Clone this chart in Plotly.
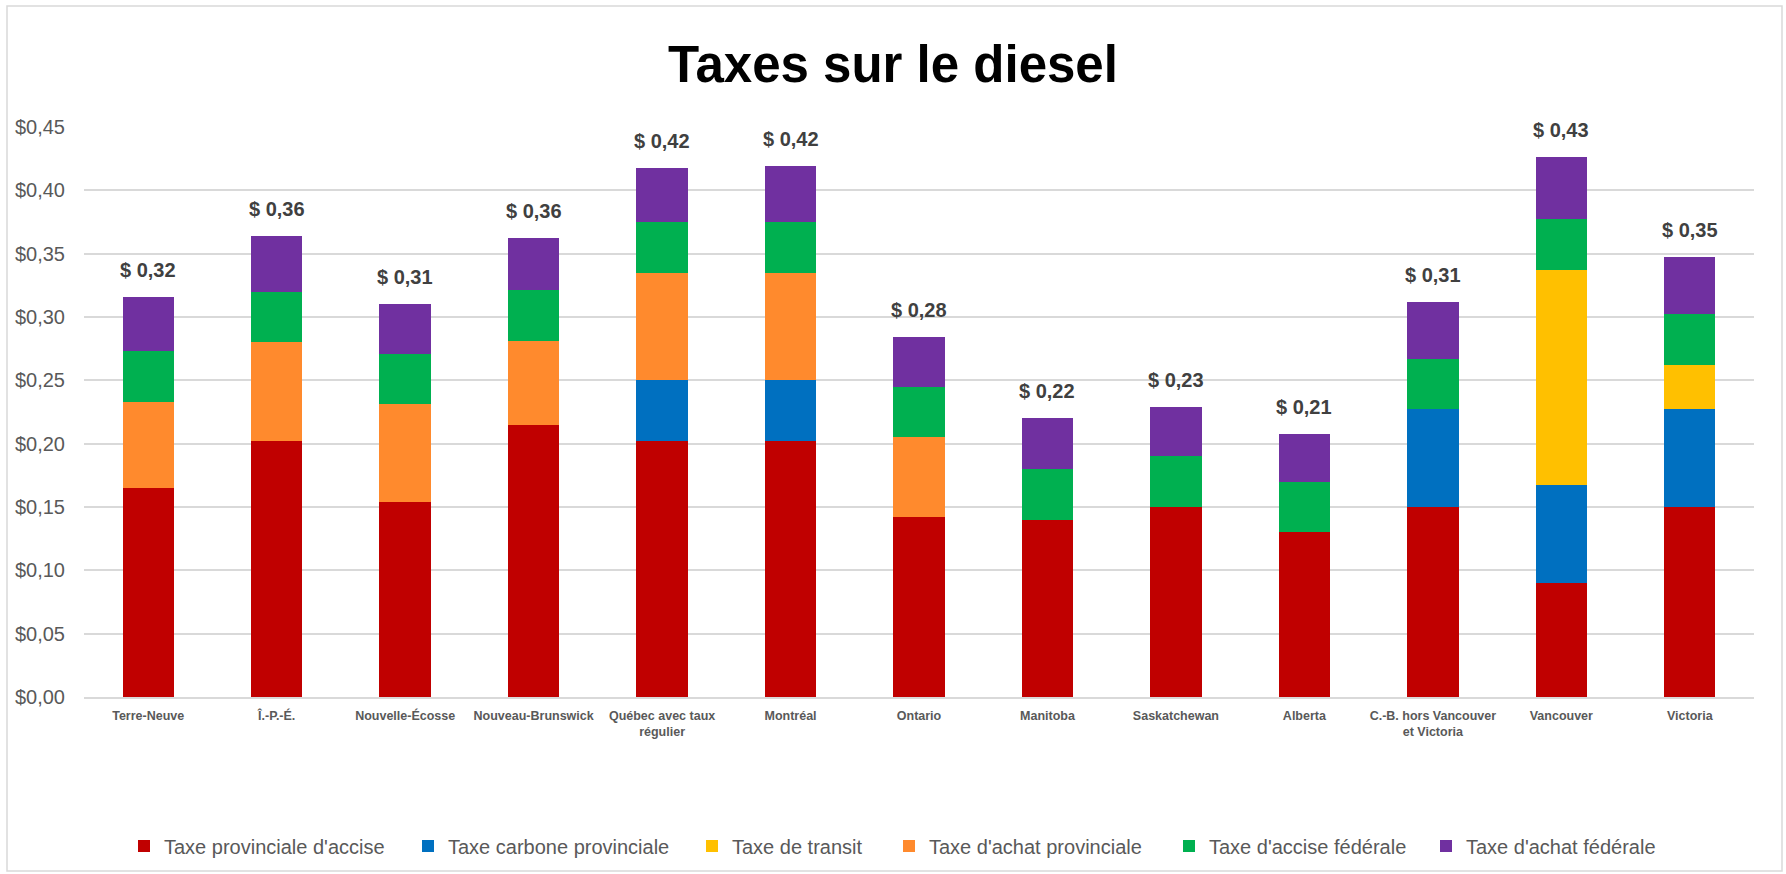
import plotly.graph_objects as go

categories = ["Terre-Neuve", "Î.-P.-É.", "Nouvelle-Écosse", "Nouveau-Brunswick",
              "Québec avec taux<br>régulier", "Montréal", "Ontario", "Manitoba",
              "Saskatchewan", "Alberta", "C.-B. hors Vancouver<br>et Victoria",
              "Vancouver", "Victoria"]

taxe_provinciale_accise = [0.165, 0.202, 0.154, 0.215, 0.202, 0.202, 0.142, 0.140, 0.150, 0.130, 0.150, 0.090, 0.150]
taxe_carbone_provinciale = [0, 0, 0, 0, 0.048, 0.048, 0, 0, 0, 0, 0.077, 0.077, 0.077]
taxe_transit = [0, 0, 0, 0, 0, 0, 0, 0, 0, 0, 0, 0.170, 0.035]
taxe_achat_provinciale = [0.068, 0.078, 0.077, 0.066, 0.085, 0.085, 0.063, 0, 0, 0, 0, 0, 0]
taxe_accise_federale = [0.040, 0.040, 0.040, 0.040, 0.040, 0.040, 0.040, 0.040, 0.040, 0.040, 0.040, 0.040, 0.040]
taxe_achat_federale = [0.043, 0.044, 0.039, 0.041, 0.043, 0.044, 0.039, 0.040, 0.039, 0.038, 0.045, 0.049, 0.045]

series_names = ["Taxe provinciale d'accise", "Taxe carbone provinciale", "Taxe de transit",
                "Taxe d'achat provinciale", "Taxe d'accise fédérale", "Taxe d'achat fédérale"]
series_values = [taxe_provinciale_accise, taxe_carbone_provinciale, taxe_transit,
                 taxe_achat_provinciale, taxe_accise_federale, taxe_achat_federale]
series_colors = ["#C00000", "#0070C0", "#FFC000", "#FF8A2D", "#00B050", "#7030A0"]

y_tick_values = [0.00, 0.05, 0.10, 0.15, 0.20, 0.25, 0.30, 0.35, 0.40, 0.45]
y_tick_labels = ["$0,00", "$0,05", "$0,10", "$0,15", "$0,20", "$0,25", "$0,30", "$0,35", "$0,40", "$0,45"]

title_text = "Taxes sur le diesel"

W, H = 1786, 874
ML, MR, MT, MB = 84, 32, 127, 177
FONT = "Liberation Sans, Arial, sans-serif"

# legend entry left edges (pixels) to mimic the spacing of the original
legend_left_px = [138, 422, 706, 903, 1183, 1440]
LEG_OFFSET = 14

fig = go.Figure()
legend_layouts = {}
for i, (name, vals, col) in enumerate(zip(series_names, series_values, series_colors)):
    lname = "legend" if i == 0 else f"legend{i + 1}"
    fig.add_trace(go.Bar(
        x=categories, y=vals, name=name,
        marker=dict(color=col, line=dict(width=0)),
        width=0.4, legend=lname,
    ))
    legend_layouts[lname] = dict(
        orientation="h", xref="container", yref="container",
        x=(legend_left_px[i] - LEG_OFFSET) / W, xanchor="left",
        y=1 - 846 / H, yanchor="middle",
        bgcolor="rgba(0,0,0,0)",
        font=dict(family=FONT, size=20, color="#595959"),
    )

totals = [sum(v[i] for v in series_values) for i in range(len(categories))]
for cat, tot in zip(categories, totals):
    fig.add_annotation(
        x=cat, y=tot, xref="x", yref="y",
        text="$ " + f"{tot:.2f}".replace(".", ","),
        showarrow=False, yanchor="middle", yshift=27,
        font=dict(family=FONT, size=20, color="#404040", weight="bold"),
    )

# outer chart border
pw = W - ML - MR
ph = H - MT - MB
bx0, bx1, by_top, by_bot = 7, 1782, 6, 871
fig.add_shape(
    type="rect", xref="paper", yref="paper",
    x0=(bx0 - ML) / pw, x1=(bx1 - ML) / pw,
    y0=(H - MB - by_bot) / ph, y1=(H - MB - by_top) / ph,
    line=dict(color="#D9D9D9", width=1.5), fillcolor="rgba(0,0,0,0)", layer="below",
)

fig.update_layout(
    width=W, height=H,
    margin=dict(l=ML, r=MR, t=MT, b=MB, autoexpand=False),
    paper_bgcolor="white", plot_bgcolor="white",
    barmode="stack",
    title=dict(text=title_text, x=0.5, xref="container", xanchor="center",
               y=1 - 64 / H, yref="container", yanchor="middle",
               font=dict(family=FONT, size=51, color="#000000", weight="bold")),
    showlegend=True,
    **legend_layouts,
)

fig.update_xaxes(
    type="category", showgrid=False, showline=True, linecolor="#D9D9D9", linewidth=1.5,
    ticks="", tickfont=dict(family=FONT, size=12.5, color="#595959", weight="bold"),
    ticklabelstandoff=6, fixedrange=True,
)
fig.update_yaxes(
    range=[0, 0.45], tickvals=y_tick_values, ticktext=y_tick_labels,
    showgrid=True, gridcolor="#D9D9D9", gridwidth=1.5, zeroline=False,
    ticks="", tickfont=dict(family=FONT, size=20, color="#595959"),
    ticklabelstandoff=18, showline=False, fixedrange=True,
)

fig.write_html("out.html", config={"displayModeBar": False},
               post_script="document.body.style.margin='0px';")
